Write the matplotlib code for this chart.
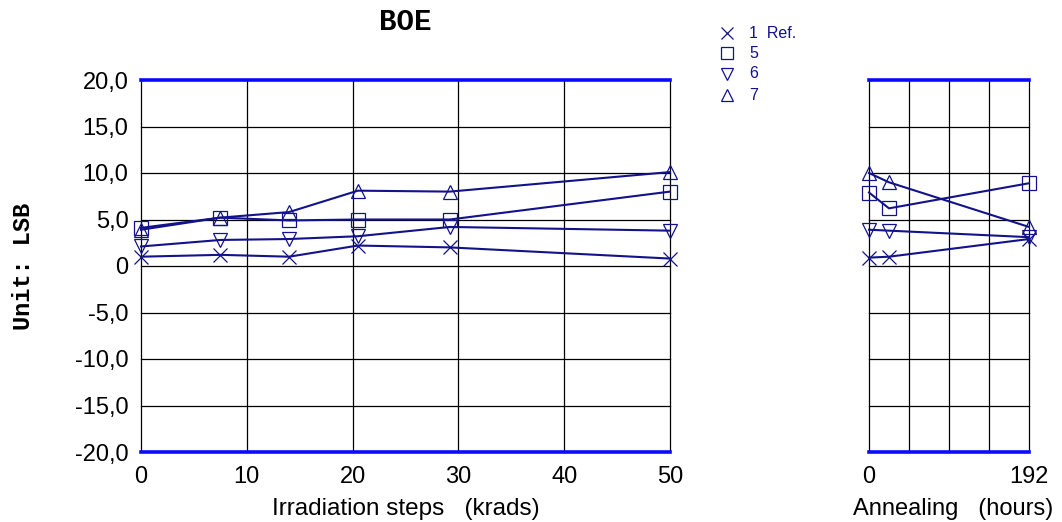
import matplotlib
matplotlib.use("Agg")
import matplotlib.pyplot as plt
from matplotlib.lines import Line2D
from matplotlib.ticker import FuncFormatter

# ---- data ----
irr_steps = [0, 7.5, 14, 20.5, 29.2, 50]
ann_hours = [0, 24, 192]
series_labels = ["1  Ref.", "5", "6", "7"]
series_markers = ["x", "s", "v", "^"]
irr_values = [
    [1.0, 1.2, 1.0, 2.2, 2.0, 0.8],
    [4.1, 5.2, 4.9, 5.0, 5.0, 8.0],
    [2.1, 2.8, 2.9, 3.2, 4.2, 3.8],
    [3.9, 5.2, 5.8, 8.1, 8.0, 10.1],
]
ann_values = [
    [0.9, 1.0, 2.9],
    [7.9, 6.2, 8.9],
    [3.9, 3.8, 3.1],
    [10.0, 9.0, 4.2],
]
y_ticks = [-20, -15, -10, -5, 0, 5, 10, 15, 20]
irr_ticks = [0, 10, 20, 30, 40, 50]
ann_grid = [0, 48, 96, 144, 192]
ann_ticks = [0, 192]

NAVY = "#12128a"
BLUE = "#0a0aff"
W, H = 1062, 522

fig = plt.figure(figsize=(W / 100, H / 100), dpi=100)
sans = "Liberation Sans"
mono = "Liberation Mono"


def ax_rect(x0, x1, y0, y1):
    return [x0 / W, 1 - y1 / H, (x1 - x0) / W, (y1 - y0) / H]


def fx(px):
    return px / W


def fy(py):
    return 1 - py / H


ax1 = fig.add_axes(ax_rect(141, 670, 80, 452))
ax2 = fig.add_axes(ax_rect(869, 1029, 80, 452))


def yfmt(v, p):
    if abs(v) < 1e-9:
        return "0"
    return f"{v:.1f}".replace(".", ",")


for ax, xs, vals, xmax, grid_x in [
    (ax1, irr_steps, irr_values, 50, irr_ticks),
    (ax2, ann_hours, ann_values, 192, ann_grid),
]:
    ax.set_xlim(0, xmax)
    ax.set_ylim(-20, 20)
    for gx in grid_x:
        ax.axvline(gx, color="black", lw=0.9, zorder=1, clip_on=False)
    for gy in y_ticks[1:-1]:
        ax.axhline(gy, color="black", lw=0.9, zorder=1, clip_on=False)
    for sp in ax.spines.values():
        sp.set_visible(False)
    ax.axhline(20, color=BLUE, lw=2.6, zorder=2, clip_on=False)
    ax.axhline(-20, color=BLUE, lw=2.6, zorder=2, clip_on=False)
    for v, m in zip(vals, series_markers):
        ax.plot(xs, v, color=NAVY, lw=1.5, marker=m, markersize=9.5,
                markerfacecolor="none", markeredgecolor=NAVY,
                markeredgewidth=0.9, clip_on=False, zorder=3)
    ax.tick_params(axis="x", length=0, labelsize=17, pad=10)
    ax.tick_params(axis="y", length=0, labelsize=17, pad=9)

ax1.set_xticks(irr_ticks)
ax1.set_yticks(y_ticks)
ax1.yaxis.set_major_formatter(FuncFormatter(yfmt))
ax2.set_xticks(ann_ticks)
ax2.set_yticks([])
for ax in (ax1, ax2):
    for t in ax.get_xticklabels() + ax.get_yticklabels():
        t.set_fontfamily(sans)

fig.text(fx(405), fy(22), "BOE", ha="center", va="center",
         fontsize=21, fontweight="bold", family=mono)
fig.text(fx(24), fy(266), "Unit: LSB", ha="center", va="center",
         rotation=90, fontsize=17, fontweight="bold", family=mono)
fig.text(fx(406), fy(515), "Irradiation steps   (krads)", ha="center",
         va="baseline", fontsize=17.5, family=sans)
fig.text(fx(953), fy(515), "Annealing   (hours)", ha="center",
         va="baseline", fontsize=17, family=sans)

# legend (drawn from the series lists)
leg_rows = [33, 53, 74, 95]
for lab, m, ry in zip(series_labels, series_markers, leg_rows):
    fig.add_artist(Line2D([fx(727)], [fy(ry)], transform=fig.transFigure,
                          marker=m, markersize=8.5, linestyle="none",
                          markerfacecolor="none", markeredgecolor=NAVY,
                          markeredgewidth=0.9))
    fig.text(fx(749), fy(ry), lab, ha="left", va="center", fontsize=11.5,
             family=sans, color=NAVY)

fig.savefig("out.png", dpi=100)
